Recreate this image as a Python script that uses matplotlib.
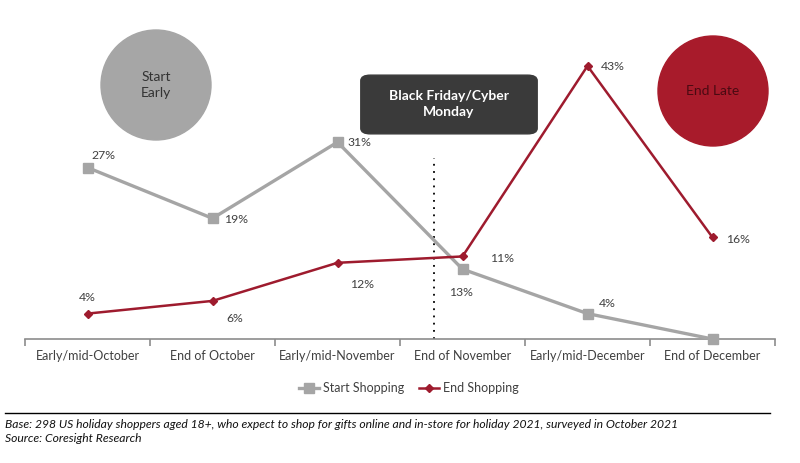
import matplotlib
matplotlib.use("Agg")
import matplotlib.pyplot as plt
from matplotlib.patches import Ellipse, FancyBboxPatch
from matplotlib.lines import Line2D

plt.rcParams['font.family'] = ['Lato', 'DejaVu Sans']

categories = ["Early/mid-October", "End of October", "Early/mid-November",
              "End of November", "Early/mid-December", "End of December"]
start_shopping = [27, 19, 31, 11, 4, 0]
end_shopping = [4, 6, 12, 13, 43, 16]
start_labels = ["27%", "19%", "31%", "13%", "4%", ""]
end_labels = ["4%", "6%", "12%", "11%", "43%", "16%"]

W, H = 800, 463
fig = plt.figure(figsize=(8, 4.63), dpi=100)
# axes: x 25..775 px, y 20..339 px (from top)
ax = fig.add_axes([25 / W, 1 - 339 / H, 750 / W, 319 / H])
ax.set_xlim(-0.5, len(categories) - 0.5)
ax.set_ylim(0, 319 / 6.35)

grey = "#a5a5a5"
red = "#9e1b2e"
txt = "#404040"

x = list(range(len(categories)))
ax.plot(x, start_shopping, color=grey, lw=2.4, marker="s", ms=7.5,
        mfc=grey, mec=grey, zorder=3, clip_on=False)
ax.plot(x, end_shopping, color=red, lw=1.8, marker="D", ms=4.5,
        mfc=red, mec=red, zorder=4, clip_on=False)

start_off = [(16, 12), (24, -1), (22, 0), (-2, -23), (20, 10), (0, 0)]
end_off = [(0, 16), (22, -18), (25, -22), (40, -2), (25, -1), (25, -2)]
for i, (v, lab) in enumerate(zip(start_shopping, start_labels)):
    if lab:
        ax.annotate(lab, (i, v), xytext=start_off[i], textcoords="offset pixels",
                    ha="center", va="center", fontsize=8.8, color=txt)
for i, (v, lab) in enumerate(zip(end_shopping, end_labels)):
    ax.annotate(lab, (i, v), xytext=end_off[i], textcoords="offset pixels",
                ha="center", va="center", fontsize=8.8, color=txt)

# axis styling
for s in ["top", "right", "left"]:
    ax.spines[s].set_visible(False)
ax.spines["bottom"].set_color("#8c8c8c")
ax.spines["bottom"].set_linewidth(1.2)
ax.set_yticks([])
ax.set_xticks([i - 0.5 for i in range(len(categories) + 1)])
ax.set_xticklabels([])
ax.tick_params(axis="x", length=5, width=1.2, color="#8c8c8c", direction="out")
ax.set_xticks(x, minor=True)
ax.set_xticklabels(categories, minor=True, fontsize=9, color=txt)
ax.tick_params(axis="x", which="minor", length=0, pad=8)

# dotted vertical line
ax.plot([2.77, 2.77], [0, 28.5], color="black", lw=1.3, ls=(0, (1, 3)), zorder=2)

# circles and box
fig.patches.append(Ellipse((156 / W, 1 - 85 / H), 110 / W, 110 / H,
                           transform=fig.transFigure, color="#a6a6a6", zorder=1))
fig.text(156 / W, 1 - 85 / H, "Start\nEarly", ha="center", va="center",
         fontsize=10, color="#333333", linespacing=1.4)
fig.patches.append(Ellipse((713 / W, 1 - 91 / H), 110 / W, 110 / H,
                           transform=fig.transFigure, color="#a81b2b", zorder=1))
fig.text(713 / W, 1 - 91 / H, "End Late", ha="center", va="center",
         fontsize=10, color="#4a0a12")
fig.patches.append(FancyBboxPatch((364 / W, 1 - 132 / H), 170 / W, 55 / H,
                                  boxstyle="round,pad=0.004,rounding_size=0.012",
                                  transform=fig.transFigure, color="#3a3a3a", zorder=1))
fig.text(449 / W, 1 - 104 / H, "Black Friday/Cyber\nMonday", ha="center", va="center",
         fontsize=10, color="white", fontweight="bold", linespacing=1.35)

# legend
handles = [Line2D([], [], color=grey, lw=2.4, marker="s", ms=7.5),
           Line2D([], [], color=red, lw=1.8, marker="D", ms=4.5)]
fig.legend(handles, ["Start Shopping", "End Shopping"], loc="center",
           bbox_to_anchor=(409 / W, 1 - 388 / H), ncol=2, frameon=False,
           fontsize=9, handlelength=1.6, handletextpad=0.3, columnspacing=1.2,
           labelcolor=txt)

# separator and footnote
fig.add_artist(Line2D([5 / W, 770 / W], [1 - 413 / H, 1 - 413 / H],
                      color="black", lw=1.0, transform=fig.transFigure))
fig.text(5 / W, 1 - 424 / H,
         "Base: 298 US holiday shoppers aged 18+, who expect to shop for gifts online and in-store for holiday 2021, surveyed in October 2021",
         ha="left", va="center", fontsize=8.7, style="italic", color="#111111")
fig.text(5 / W, 1 - 438 / H, "Source: Coresight Research",
         ha="left", va="center", fontsize=8.7, style="italic", color="#111111")

fig.savefig("out.png", dpi=100, facecolor="white")
